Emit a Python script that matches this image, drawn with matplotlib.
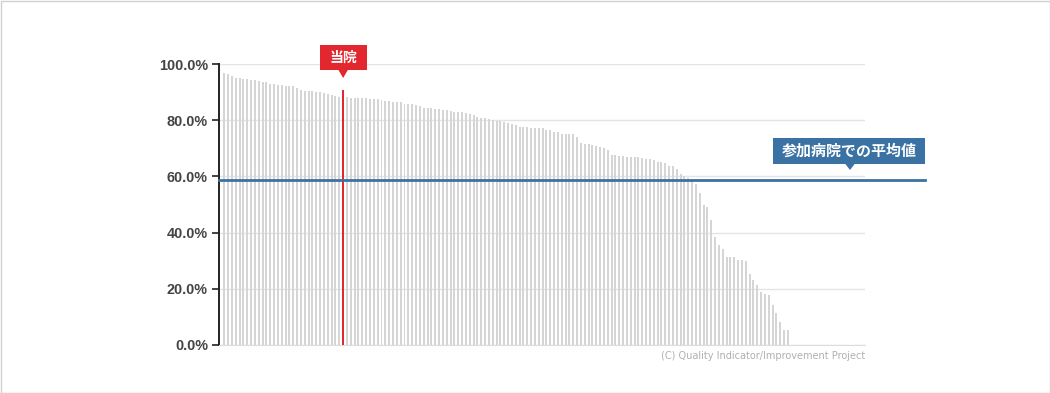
import matplotlib
matplotlib.use('Agg')
import matplotlib.pyplot as plt
from matplotlib.patches import Rectangle, Polygon
from matplotlib.ticker import FuncFormatter
import numpy as np

# rates per hospital (%), sorted high -> low
rates = [
    96.9, 96.5, 95.6, 95.1, 94.9, 94.8, 94.5, 94.4, 94.2, 93.8,
    93.5, 93.5, 92.8, 92.8, 92.4, 92.4, 92.3, 92.0, 92.0, 91.6,
    90.6, 90.4, 90.4, 90.3, 90.0, 89.9, 89.8, 89.4, 89.1, 88.7,
    88.4, 90.7, 88.1, 88.0, 87.8, 87.8, 87.8, 87.8, 87.5, 87.4,
    87.4, 87.1, 86.7, 86.7, 86.5, 86.4, 86.4, 85.8, 85.7, 85.7,
    85.4, 84.9, 84.3, 84.2, 84.2, 84.0, 83.9, 83.6, 83.5, 83.3,
    83.0, 82.9, 82.8, 82.4, 82.3, 81.7, 81.1, 80.9, 80.7, 80.6,
    80.2, 79.8, 79.7, 79.2, 78.9, 78.8, 78.3, 77.6, 77.6, 77.6,
    77.2, 77.2, 77.2, 77.2, 76.5, 76.5, 75.9, 75.7, 75.1, 75.1,
    75.1, 75.1, 74.0, 71.9, 71.5, 71.4, 71.2, 70.8, 70.5, 70.0,
    69.4, 67.6, 67.6, 67.4, 67.4, 67.0, 67.0, 66.9, 66.8, 66.5,
    66.2, 66.2, 65.8, 65.1, 65.1, 64.8, 63.7, 63.7, 62.6, 60.9,
    60.3, 59.4, 58.6, 57.3, 54.0, 49.9, 49.0, 44.6, 38.5, 35.5,
    34.0, 31.2, 31.2, 31.2, 30.4, 30.1, 29.9, 25.2, 23.1, 21.2,
    18.8, 18.0, 17.7, 14.2, 11.3, 8.2, 5.3, 5.3,
] + [0.0] * 19
hospital_idx = 31          # 当院
average = 58.7             # 参加病院での平均値
yticks = [0, 20, 40, 60, 80, 100]

hospital_label = '当院'
average_label = '参加病院での平均値'
credit = '(C) Quality Indicator/Improvement Project'

GRAY = '#d5d5d5'
RED = '#e2282e'
BLUE = '#3a72a3'

W, H = 1050, 393


def fx(px):
    return px / W


def fy(py):
    return 1 - py / H


def callout(fig, cx, top, bottom, width, text, color, size):
    # box behind a label, pixel coords (y from top)
    fig.add_artist(Rectangle((fx(cx - width / 2), fy(bottom)), width / W, (bottom - top) / H,
                             transform=fig.transFigure, color=color, lw=0, zorder=5))
    return fig.text(fx(cx), fy((top + bottom) / 2), text, ha='center', va='center', color='white',
                    fontsize=size, fontweight='bold', family=['Noto Sans CJK JP', 'DejaVu Sans'], zorder=6)


def pointer(fig, tx, base, tip, color):
    fig.add_artist(Polygon([(fx(tx - 5), fy(base - 0.5)), (fx(tx + 5), fy(base - 0.5)), (fx(tx), fy(tip))],
                           closed=True, transform=fig.transFigure, color=color, lw=0, zorder=5))


fig = plt.figure(figsize=(10.5, 3.93), dpi=100)
ax = fig.add_axes([fx(219), fy(345), 646 / W, 281 / H])

x = np.arange(len(rates))
vals = np.array(rates)
gray = x != hospital_idx
ax.bar(x[gray], vals[gray], width=0.52, color=GRAY, lw=0, zorder=2)
ax.bar([hospital_idx], [rates[hospital_idx]], width=0.6, color=RED, lw=0, zorder=3)

ax.set_xlim(-1.38, 167.1)
ax.set_ylim(0, 100)
ax.set_yticks(yticks)
ax.yaxis.set_major_formatter(FuncFormatter(lambda v, _: f'{v:.1f}%'))
ax.grid(axis='y', color='#e4e4e4', lw=1, zorder=0)
ax.set_axisbelow(True)
for s in ['top', 'right']:
    ax.spines[s].set_visible(False)
ax.spines['bottom'].set_color('#dddddd')
ax.spines['left'].set_color('#222222')
ax.spines['left'].set_linewidth(1.4)
ax.tick_params(axis='y', length=5, width=1.2, color='#222222', labelsize=10.4, labelcolor='#444444', pad=3)
for t in ax.get_yticklabels():
    t.set_family('Liberation Sans')
    t.set_fontweight('bold')
ax.tick_params(axis='x', length=0, labelbottom=False)

# average line runs past the plot area to the label
ax.plot([0, 1.093], [average, average], transform=ax.get_yaxis_transform(), clip_on=False,
        color=BLUE, lw=2, zorder=4)

hx = ax.transData.transform((hospital_idx, 0))[0]
callout(fig, hx, 45, 70, 47, hospital_label, RED, 10)
pointer(fig, hx, 70, 78, RED)
callout(fig, 849, 138, 164, 152, average_label, BLUE, 10.8)
pointer(fig, 850, 164, 170, BLUE)

fig.text(fx(865), fy(356), credit, ha='right', va='center', fontsize=7, color='#b0b0b0')
fig.add_artist(Rectangle((0.5 / W, 0.5 / H), 1 - 1 / W, 1 - 1 / H, transform=fig.transFigure,
                         fill=False, ec='#d0d0d0', lw=1))

fig.savefig('out.png', dpi=100)
plt.close(fig)
